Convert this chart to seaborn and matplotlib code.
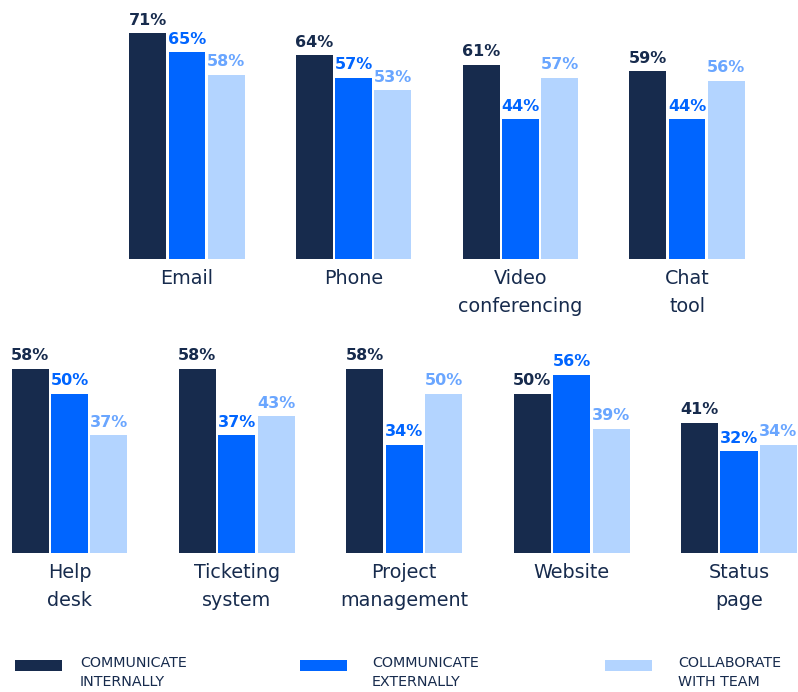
import matplotlib
matplotlib.use("Agg")
import matplotlib.pyplot as plt
import seaborn as sns
import pandas as pd
from matplotlib.patches import Rectangle

# ---- data ----
categories_top = ["Email", "Phone", "Video\nconferencing", "Chat\ntool"]
categories_bottom = ["Help\ndesk", "Ticketing\nsystem", "Project\nmanagement", "Website", "Status\npage"]
series_names = ["COMMUNICATE\nINTERNALLY", "COMMUNICATE\nEXTERNALLY", "COLLABORATE\nWITH TEAM"]
internal = [71, 64, 61, 59, 58, 58, 58, 50, 41]
external = [65, 57, 44, 44, 50, 37, 34, 56, 32]
team = [58, 53, 57, 56, 37, 43, 50, 39, 34]

bar_colors = ["#172B4D", "#0065FF", "#B3D4FF"]
label_colors = ["#172B4D", "#0065FF", "#6AA6FF"]
navy = "#172B4D"

sns.set_theme(style="white")
plt.rcParams["font.family"] = ["DejaVu Sans"]

W, H = 798, 692
fig = plt.figure(figsize=(W / 100, H / 100), dpi=100)

def build_df(cats, offset):
    rows = []
    for i, c in enumerate(cats):
        for s, vals in zip(series_names, [internal, external, team]):
            rows.append({"category": c, "series": s, "value": vals[offset + i]})
    return pd.DataFrame(rows)

px_per_pct = 3.18

def make_axes(left_px, right_px, baseline_px):
    height_px = 80 * px_per_pct
    ax = fig.add_axes([left_px / W, (H - baseline_px) / H,
                       (right_px - left_px) / W, height_px / H])
    return ax

def draw(ax, cats, offset, xlim):
    df = build_df(cats, offset)
    sns.barplot(data=df, x="category", y="value", hue="series",
                order=cats, hue_order=series_names, palette=bar_colors,
                width=0.707, gap=0.06, saturation=1, ax=ax, legend=False,
                edgecolor="none", linewidth=0)
    for cont, col in zip(ax.containers, label_colors):
        ax.bar_label(cont, labels=[f"{b.get_height():.0f}%" for b in cont],
                     padding=4, color=col, fontsize=11.5, fontweight="heavy")
    ax.set_xlim(*xlim)
    ax.set_ylim(0, 80)
    ax.set_xlabel("")
    ax.set_ylabel("")
    ax.set_yticks([])
    for sp in ax.spines.values():
        sp.set_visible(False)
    ax.tick_params(axis="x", length=0, pad=7, labelsize=13.8, labelcolor=navy)
    for t in ax.get_xticklabels():
        t.set_linespacing(1.6)
    ax.patch.set_alpha(0)

# top row: group centers at 187 .. 687 px
sp_top = 166.7
ax1 = make_axes(187 - 0.5 * sp_top, 687 + 0.5 * sp_top, 259)
draw(ax1, categories_top, 0, (-0.5, 3.5))

# bottom row: centers 69.5 .. 739 px
sp_bot = (739 - 69.5) / 4
ax2 = make_axes(0, W, 553)
draw(ax2, categories_bottom, 4, (-69.5 / sp_bot, (W - 69.5) / sp_bot))

# legend
swatch_x = [15, 300, 605]
text_x = [80, 372, 678]
for sx, tx, col, name in zip(swatch_x, text_x, bar_colors, series_names):
    fig.add_artist(Rectangle((sx / W, (H - 670.5) / H), 47 / W, 11 / H,
                             transform=fig.transFigure, facecolor=col,
                             edgecolor="none"))
    fig.text(tx / W, (H - 656) / H, name, ha="left", va="top",
             fontsize=10.3, color=navy, linespacing=1.5)

fig.savefig("out.png", dpi=100, facecolor="white")
